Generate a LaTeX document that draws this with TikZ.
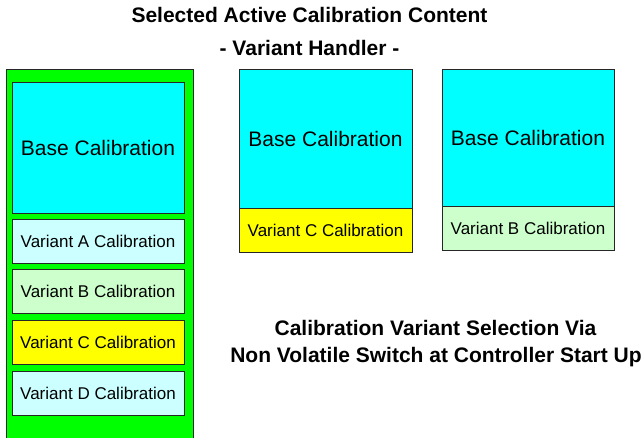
\documentclass[tikz,border=0pt]{standalone}
\usepackage{fontspec}
\setmainfont{Liberation Sans}
\definecolor{vhgreen}{HTML}{00FF00}
\definecolor{vhcyan}{HTML}{00FFFF}
\definecolor{vhpalecyan}{HTML}{CCFFFF}
\definecolor{vhpalegreen}{HTML}{CCFFCC}
\definecolor{vhyellow}{HTML}{FFFF00}
\begin{document}
\begin{tikzpicture}
[x=1pt, y=1pt, every node/.style={inner sep=0pt},
 calbox/.style={rectangle, draw=black!85, line width=1pt, text=black},
 basecal/.style={calbox, fill=vhcyan, font=\fontsize{21pt}{25pt}\selectfont},
 varcal/.style={calbox, minimum height=44pt, font=\fontsize{17pt}{20pt}\selectfont},
 heading/.style={anchor=base, text=black, font=\fontsize{21pt}{25pt}\selectfont\bfseries}]
\clip (0,0) rectangle (644,-437);
% complete calibration set
\node (all) [calbox, fill=vhgreen, minimum width=187pt, minimum height=380pt] at (99.5, -259) {};
\node (base1) [basecal, minimum width=172pt, minimum height=131pt] at (98, -147.5) {Base Calibration};
\node (varA) [varcal, fill=vhpalecyan, minimum width=172pt] at (98, -241) {Variant A Calibration};
\node (varB) [varcal, fill=vhpalegreen, minimum width=172pt] at (98, -291) {Variant B Calibration};
\node (varC) [varcal, fill=vhyellow, minimum width=172pt] at (98, -342) {Variant C Calibration};
\node (varD) [varcal, fill=vhpalecyan, minimum width=172pt] at (98, -393) {Variant D Calibration};
% selected content
\node (base2) [basecal, minimum width=173pt, minimum height=139pt] at (325.5, -138.5) {Base Calibration};
\node (selC) [varcal, fill=vhyellow, minimum width=173pt] at (325.5, -230) {Variant C Calibration};
\node (base3) [basecal, minimum width=172pt, minimum height=137pt] at (528, -137.5) {Base Calibration};
\node (selB) [varcal, fill=vhpalegreen, minimum width=172pt] at (528, -228) {Variant B Calibration};
% texts
\node (title1) [heading] at (309.5, -22.3) {Selected Active Calibration Content};
\node (title2) [heading] at (309.5, -55) {- Variant Handler -};
\node (note1) [heading] at (435.5, -335) {Calibration Variant Selection Via};
\node (note2) [heading] at (436, -362) {Non Volatile Switch at Controller Start Up};
\end{tikzpicture}
\end{document}
